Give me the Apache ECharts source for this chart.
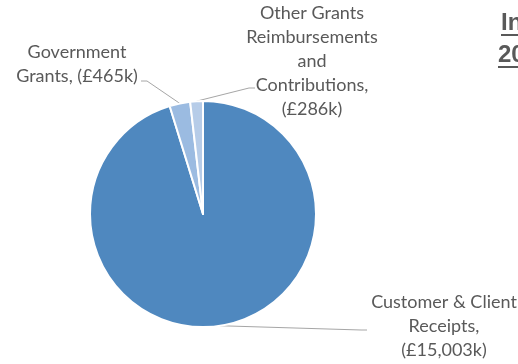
<!DOCTYPE html>
<html>
<head>
<meta charset="utf-8">
<script src="https://cdn.jsdelivr.net/npm/echarts@6/dist/echarts.min.js"></script>
<style>
  html, body { margin: 0; padding: 0; background: #ffffff; }
  #chart { width: 518px; height: 364px; }
</style>
</head>
<body>
<div id="chart"></div>
<script>
// Income sources, in £ thousands
const categories = [
  'Customer & Client\nReceipts,',
  'Government\nGrants,',
  'Other Grants\nReimbursements\nand\nContributions,'
];
const values = [15003, 465, 286];
const sliceColors = ['#4f88bf', '#9bbbe1', '#b6cce8'];
const titleLines = ['Income', '2020/21'];

// label block centres (px) and where each leader line meets its label
const labelCentres = [[444, 326], [77, 64], [312, 61]];
const leaderEnds = [[367, 330], [141, 81], [255, 88]];

const fmt = v => '(£' + v.toLocaleString('en-GB') + 'k)';
const font = 'Lato, "Open Sans", sans-serif';

const chart = echarts.init(document.getElementById('chart'), null, { renderer: 'canvas' });

chart.setOption({
  backgroundColor: '#ffffff',
  animation: false,
  graphic: [
    { type: 'text', left: 501, top: 11, style: { text: titleLines[0], font: 'bold 24px "Liberation Sans", Arial, sans-serif', fill: '#595959' } },
    { type: 'text', left: 498, top: 43, style: { text: titleLines[1], font: 'bold 24px "Liberation Sans", Arial, sans-serif', fill: '#595959' } },
    { type: 'line', shape: { x1: 501, y1: 35, x2: 520, y2: 35 }, style: { stroke: '#595959', lineWidth: 2 } },
    { type: 'line', shape: { x1: 498, y1: 67, x2: 520, y2: 67 }, style: { stroke: '#595959', lineWidth: 2 } }
  ],
  series: [{
    type: 'pie',
    center: [203, 214],
    radius: [0, 113],
    startAngle: 90,
    clockwise: true,
    itemStyle: { borderColor: '#ffffff', borderWidth: 2 },
    data: categories.map((name, i) => ({
      name: name,
      value: values[i],
      itemStyle: { color: sliceColors[i] }
    })),
    label: {
      show: true,
      formatter: p => p.name + (p.dataIndex === 1 ? ' ' : '\n') + fmt(p.value),
      fontFamily: font,
      fontSize: 18,
      lineHeight: 24,
      color: '#595959',
      align: 'center',
      overflow: 'none',
      width: 200
    },
    labelLine: {
      show: true,
      length: 10,
      length2: 10,
      lineStyle: { color: '#a6a6a6', width: 1 }
    },
    labelLayout: function (params) {
      const i = params.dataIndex;
      const c = labelCentres[i];
      const start = params.labelLinePoints[0];
      const end = leaderEnds[i];
      const bend = [end[0] + (start[0] < end[0] ? -6 : 6), end[1]];
      return {
        x: c[0], y: c[1], align: 'center', verticalAlign: 'middle',
        labelLinePoints: [start, bend, end]
      };
    }
  }]
});
</script>
</body>
</html>
